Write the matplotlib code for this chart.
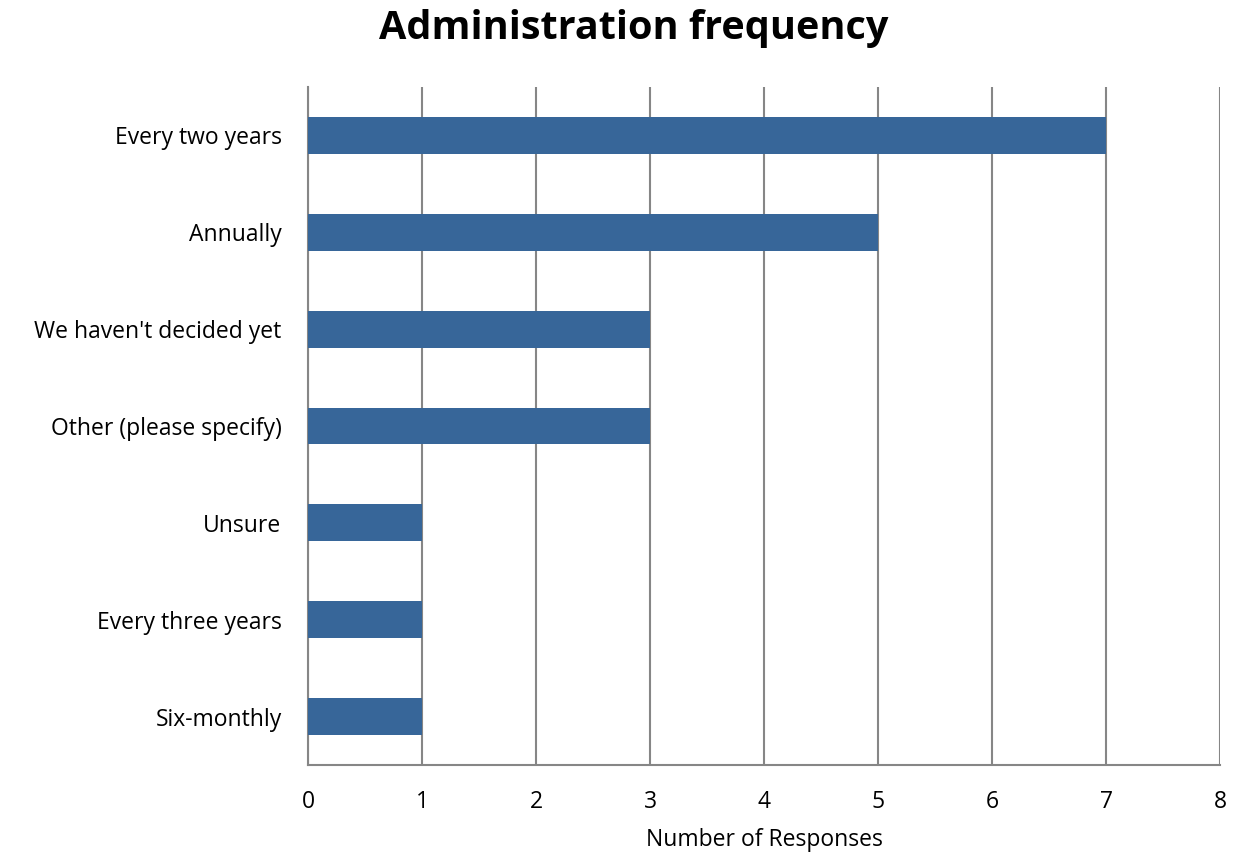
import numpy as np
import matplotlib.pyplot as plt

categories = ['Every two years', 'Annually', "We haven't decided yet",
              'Other (please specify)', 'Unsure', 'Every three years', 'Six-monthly']
responses = [7, 5, 3, 3, 1, 1, 1]
x_ticks = [0, 1, 2, 3, 4, 5, 6, 7, 8]

plt.rcParams['font.family'] = ['Open Sans', 'DejaVu Sans']

fig = plt.figure(figsize=(12.35, 8.56), dpi=100)
ax = fig.add_axes([0.2494, 0.1063, 0.7385, 0.7921])

y = np.arange(len(categories))
ax.barh(y, responses, height=0.38, color='#376699', zorder=3)

ax.set_xlim(0, 8)
ax.set_ylim(len(categories) - 0.5, -0.5)
ax.set_xticks(x_ticks)
ax.set_yticks(y)
ax.set_yticklabels(categories)
ax.tick_params(axis='both', length=0, labelsize=16.5)
ax.tick_params(axis='x', pad=18)
ax.tick_params(axis='y', pad=19)
ax.grid(axis='x', color='#868686', linewidth=1.5, zorder=0)

for side in ['top', 'right']:
    ax.spines[side].set_visible(False)
ax.spines['left'].set_color('#868686')
ax.spines['left'].set_linewidth(1.5)
ax.spines['bottom'].set_color('#868686')
ax.spines['bottom'].set_linewidth(1.5)

ax.set_xlabel('Number of Responses', fontsize=16.5, labelpad=10)
fig.suptitle('Administration frequency', fontsize=28.5, fontweight='bold', x=0.513, y=0.99)

fig.savefig('out.png', dpi=100)
